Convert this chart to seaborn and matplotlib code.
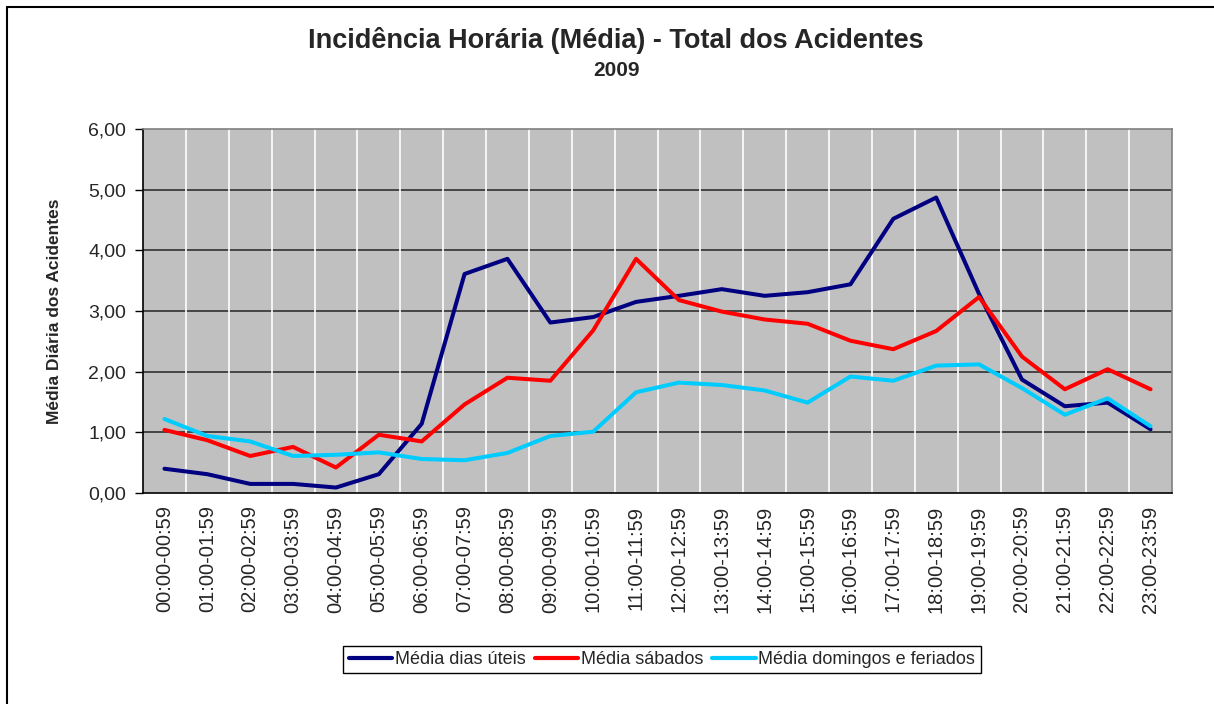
"""
Incidencia horaria (media) - total dos acidentes, 2009
"""

import numpy as np
import matplotlib
matplotlib.use('Agg')
import matplotlib.pyplot as plt
from matplotlib.lines import Line2D
from matplotlib.ticker import FixedLocator, FuncFormatter
import seaborn as sns
import pandas as pd

horas = ['00:00-00:59', '01:00-01:59', '02:00-02:59', '03:00-03:59', '04:00-04:59',
         '05:00-05:59', '06:00-06:59', '07:00-07:59', '08:00-08:59', '09:00-09:59',
         '10:00-10:59', '11:00-11:59', '12:00-12:59', '13:00-13:59', '14:00-14:59',
         '15:00-15:59', '16:00-16:59', '17:00-17:59', '18:00-18:59', '19:00-19:59',
         '20:00-20:59', '21:00-21:59', '22:00-22:59', '23:00-23:59']

dias_uteis = [0.40, 0.31, 0.15, 0.15, 0.09, 0.31, 1.14, 3.61, 3.86, 2.81, 2.90, 3.15,
              3.25, 3.36, 3.25, 3.31, 3.44, 4.52, 4.87, 3.28, 1.87, 1.43, 1.49, 1.05]
sabados = [1.04, 0.87, 0.61, 0.76, 0.42, 0.96, 0.85, 1.46, 1.90, 1.85, 2.68, 3.86,
           3.18, 2.99, 2.86, 2.79, 2.51, 2.37, 2.67, 3.23, 2.25, 1.71, 2.04, 1.71]
domingos = [1.22, 0.94, 0.85, 0.61, 0.63, 0.67, 0.56, 0.54, 0.66, 0.94, 1.01, 1.66,
            1.82, 1.78, 1.69, 1.49, 1.92, 1.85, 2.10, 2.12, 1.73, 1.29, 1.56, 1.10]

series = ['Média dias úteis', 'Média sábados', 'Média domingos e feriados']
cores = ['#000080', '#FF0000', '#00CCFF']

df = pd.DataFrame({
    'hora': horas * 3,
    'media': dias_uteis + sabados + domingos,
    'serie': np.repeat(series, len(horas)),
})

sns.set_style('white')
plt.rcParams['font.family'] = ['Liberation Sans', 'DejaVu Sans']

W, H = 1214, 704
fig = plt.figure(figsize=(W / 100, H / 100), dpi=100)
ax = fig.add_axes([143 / W, 1 - 493 / H, (1172 - 143) / W, (493 - 129) / H])
ax.set_facecolor('#C0C0C0')

sns.lineplot(data=df, x='hora', y='media', hue='serie', palette=cores,
             linewidth=2.9, sort=False, legend=False, ax=ax, zorder=3)

ax.set_xlim(-0.5, len(horas) - 0.5)
ax.set_ylim(0, 6)
ax.set_yticks(np.arange(0, 7, 1))
ax.yaxis.set_major_formatter(FuncFormatter(lambda v, p: f'{v:.2f}'.replace('.', ',')))
ax.set_xticks(range(len(horas)))
ax.set_xticklabels(horas, rotation=90)
ax.xaxis.set_minor_locator(FixedLocator(np.arange(-0.5, len(horas), 1)))

ax.tick_params(axis='x', which='major', length=0, pad=9, labelsize=14.5)
ax.tick_params(axis='x', which='minor', length=6, width=1, color='black', direction='out')
ax.tick_params(axis='y', which='major', length=6, width=1, color='black',
               direction='out', pad=6, labelsize=14)
ax.tick_params(left=True, bottom=True)

# gridlines like the Excel original
ax.grid(False)
for y in range(1, 6):
    ax.axhline(y, color='#303030', linewidth=1.2, zorder=1)
for x in np.arange(0.5, len(horas) - 1, 1):
    ax.axvline(x, color='white', linewidth=1.2, zorder=1)

for side in ['left', 'bottom']:
    ax.spines[side].set_color('black')
    ax.spines[side].set_linewidth(1.2)
for side in ['top', 'right']:
    ax.spines[side].set_color('#808080')
    ax.spines[side].set_linewidth(1.2)
ax.set_xlabel('')
ax.set_ylabel('')

fig.text(616 / W, 1 - 40 / H, 'Incidência Horária (Média) - Total dos Acidentes',
         ha='center', va='center', fontsize=19.5, fontweight='bold')
fig.text(617 / W, 1 - 71 / H, '2009', ha='center', va='center',
         fontsize=15, fontweight='bold')
fig.text(55 / W, 1 - 311 / H, 'Média Diária dos Acidentes', rotation=90,
         ha='center', va='center', fontsize=12.5, fontweight='bold')

handles = [Line2D([], [], color=c, linewidth=3) for c in cores]
leg = fig.legend(handles, series, loc='center', ncol=3,
                 bbox_to_anchor=(662 / W, 1 - 659.5 / H), bbox_transform=fig.transFigure,
                 fontsize=13, frameon=True, fancybox=False, framealpha=1,
                 edgecolor='black', handlelength=2.4, handletextpad=0.15,
                 columnspacing=0.5, borderpad=0.3, borderaxespad=0)
leg.get_frame().set_linewidth(1)

# chart-area border (top and left edges visible in the original crop)
fig.add_artist(Line2D([7 / W, 7 / W], [0, 1 - 7 / H], color='black', linewidth=1.5))
fig.add_artist(Line2D([7 / W, 1], [1 - 7 / H, 1 - 7 / H], color='black', linewidth=1.5))

fig.savefig('out.png', dpi=100)
plt.close(fig)
